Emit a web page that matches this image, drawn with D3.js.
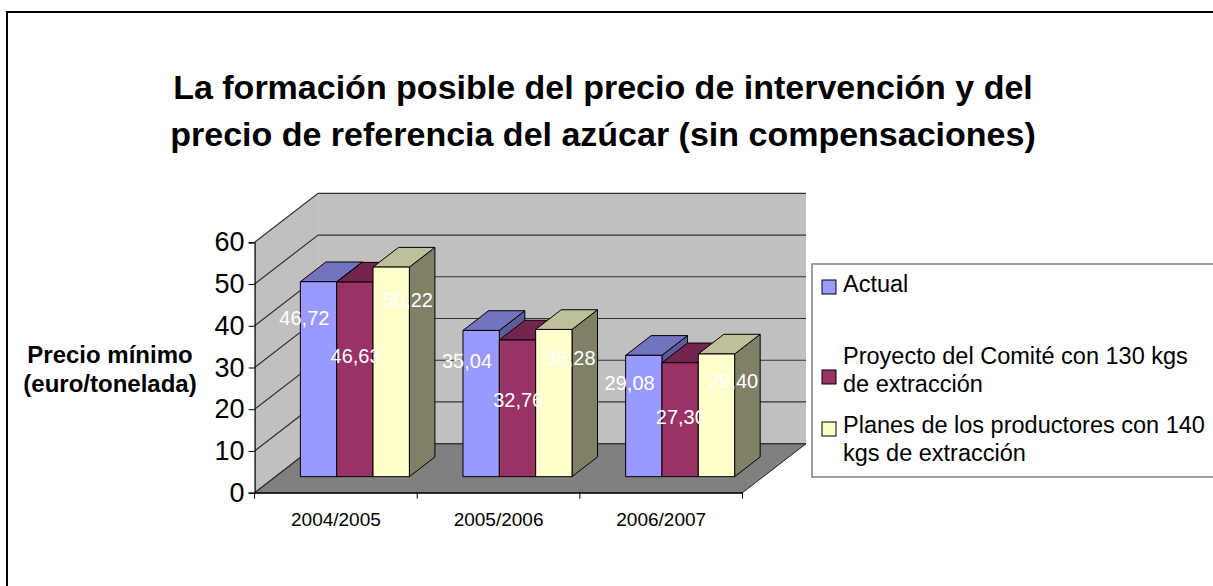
<!DOCTYPE html>
<html>
<head>
<meta charset="utf-8">
<script src="https://cdn.jsdelivr.net/npm/d3@7"></script>
<style>
  body { margin: 0; background: #fff; }
  text { font-family: "Liberation Sans", Arial, sans-serif; }
</style>
</head>
<body>
<div id="container"></div>
<script>
// data
const categories = ["2004/2005", "2005/2006", "2006/2007"];
const actual = [46.72, 35.04, 29.08];
const proyecto = [46.63, 32.76, 27.30];
const planes = [50.22, 35.28, 29.40];
const yTicks = [0, 10, 20, 30, 40, 50, 60];
const titleLines = ["La formación posible del precio de intervención y del",
                    "precio de referencia del azúcar (sin compensaciones)"];
const yTitleLines = ["Precio mínimo", "(euro/tonelada)"];
const legendLines = [["Actual"],
                     ["Proyecto del Comité con 130 kgs", "de extracción"],
                     ["Planes de los productores con 140", "kgs de extracción"]];

const seriesValues = [actual, proyecto, planes];
// front, top, side colours per series
const colors = [
  {front: "#9999ff", top: "#7373bf", side: "#5c5c99"},
  {front: "#993366", top: "#73264d", side: "#5c1f3d"},
  {front: "#ffffcc", top: "#bfbf99", side: "#808066"}
];

const svg = d3.select("#container")
  .append("svg")
  .attr("width", 1213)
  .attr("height", 586);

// outer frame (right and bottom go past the window)
svg.append("rect")
  .attr("x", 7).attr("y", 12)
  .attr("width", 1230).attr("height", 600)
  .attr("fill", "none")
  .attr("stroke", "#000")
  .attr("stroke-width", 2);

// title
svg.selectAll(".title")
  .data(titleLines)
  .enter().append("text")
  .attr("class", "title")
  .attr("x", 603)
  .attr("y", (d, i) => 99 + i * 47)
  .attr("text-anchor", "middle")
  .attr("font-size", 34)
  .attr("font-weight", "bold")
  .text(d => d);

// 3d stuff
const DX = 63.5, DY = 49;
const t0 = 0.327, t1 = 0.729;

const x0 = d3.scaleBand()
  .domain(categories)
  .range([254.6, 742.5]);
const x1 = d3.scaleBand()
  .domain(d3.range(seriesValues.length))
  .range([25, 134]);
const y = d3.scaleLinear()
  .domain([0, 60])
  .range([492.7, 242.3]);

const xStart = x0.range()[0], xEnd = x0.range()[1];

function proj(x, v, t) {
  return [x + t * DX, y(v) - t * DY];
}
function poly(pts) {
  return pts.map(p => p.join(",")).join(" ");
}

const yMax = y.domain()[1];
// left wall
svg.append("polygon")
  .attr("points", poly([proj(xStart, 0, 0), proj(xStart, yMax, 0), proj(xStart, yMax, 1), proj(xStart, 0, 1)]))
  .attr("fill", "#c0c0c0");
// back wall
svg.append("polygon")
  .attr("points", poly([proj(xStart, 0, 1), proj(xEnd, 0, 1), proj(xEnd, yMax, 1), proj(xStart, yMax, 1)]))
  .attr("fill", "#c0c0c0");
// floor
svg.append("polygon")
  .attr("points", poly([proj(xStart, 0, 0), proj(xEnd, 0, 0), proj(xEnd, 0, 1), proj(xStart, 0, 1)]))
  .attr("fill", "#808080")
  .attr("stroke", "#222")
  .attr("stroke-width", 1);

// gridlines on walls
svg.selectAll(".grid")
  .data(yTicks)
  .enter().append("polyline")
  .attr("class", "grid")
  .attr("points", d => poly([proj(xStart, d, 0), proj(xStart, d, 1), proj(xEnd, d, 1)]))
  .attr("fill", "none")
  .attr("stroke", "#333")
  .attr("stroke-width", 1.2);

// bars
const bw = x1.bandwidth();
const barG = svg.selectAll(".group")
  .data(categories)
  .enter().append("g")
  .attr("class", "group");

barG.each(function(cat, ci) {
  const g = d3.select(this);
  seriesValues.forEach((vals, si) => {
    const v = vals[ci];
    const xl = x0(cat) + x1(si);
    const xr = xl + bw;
    const b = g.append("g");
    b.append("polygon")
      .attr("points", poly([proj(xr, 0, t0), proj(xr, v, t0), proj(xr, v, t1), proj(xr, 0, t1)]))
      .attr("fill", colors[si].side);
    b.append("polygon")
      .attr("points", poly([proj(xl, v, t0), proj(xr, v, t0), proj(xr, v, t1), proj(xl, v, t1)]))
      .attr("fill", colors[si].top);
    b.append("polygon")
      .attr("points", poly([proj(xl, 0, t0), proj(xr, 0, t0), proj(xr, v, t0), proj(xl, v, t0)]))
      .attr("fill", colors[si].front);
    b.selectAll("polygon")
      .attr("stroke", "#000")
      .attr("stroke-width", 1)
      .attr("stroke-linejoin", "round");
  });
});

// data labels (excel puts them in odd places, these follow the picture)
const labelPos = [
  {fx: 0.11, k: 0.879, c: 12.8},
  {fx: 0.52, k: 0.752, c: 25.7},
  {fx: 0.96, k: 0.929, c: 18}
];
categories.forEach((cat, ci) => {
  seriesValues.forEach((vals, si) => {
    const v = vals[ci];
    const xl = x0(cat) + x1(si);
    const p = proj(xl + bw * labelPos[si].fx, v * labelPos[si].k, t0);
    svg.append("text")
      .attr("x", p[0])
      .attr("y", p[1] + labelPos[si].c + 7)
      .attr("text-anchor", "middle")
      .attr("font-size", 20)
      .attr("fill", "#fff")
      .text(v.toFixed(2).replace(".", ","));
  });
});

// y axis
const yAxis = d3.axisLeft(y)
  .tickValues(yTicks)
  .tickSize(6)
  .tickPadding(4)
  .tickFormat(d3.format("d"));
svg.append("g")
  .attr("transform", `translate(${xStart},0)`)
  .call(yAxis)
  .call(g => g.select(".domain").attr("stroke", "#000").attr("stroke-width", 1.2))
  .call(g => g.selectAll("text")
    .attr("font-family", "Liberation Sans, Arial, sans-serif")
    .attr("font-size", 27)
    .attr("fill", "#000"));

// x axis
const xAxis = d3.axisBottom(x0)
  .tickSize(0)
  .tickPadding(20);
const xAxisG = svg.append("g")
  .attr("transform", `translate(0,${y(0)})`)
  .call(xAxis);
xAxisG.select(".domain").attr("stroke", "#000").attr("stroke-width", 1.2);
xAxisG.selectAll("text")
  .attr("font-family", "Liberation Sans, Arial, sans-serif")
  .attr("font-size", 19)
  .attr("fill", "#000");
// category separators ticks
xAxisG.selectAll(".sep")
  .data(categories.concat(["end"]))
  .enter().append("line")
  .attr("class", "sep")
  .attr("x1", (d, i) => i < categories.length ? x0(d) : xEnd)
  .attr("x2", (d, i) => i < categories.length ? x0(d) : xEnd)
  .attr("y1", 0).attr("y2", 6)
  .attr("stroke", "#000");

// y title
svg.selectAll(".ytitle")
  .data(yTitleLines)
  .enter().append("text")
  .attr("class", "ytitle")
  .attr("x", 110)
  .attr("y", (d, i) => 363 + i * 29)
  .attr("text-anchor", "middle")
  .attr("font-size", 24)
  .attr("font-weight", "bold")
  .text(d => d);

// legend
const legend = svg.append("g");
legend.append("rect")
  .attr("x", 812).attr("y", 264)
  .attr("width", 420).attr("height", 213)
  .attr("fill", "#fff")
  .attr("stroke", "#808080")
  .attr("stroke-width", 1.5);
const legendY = [292, 364, 433];
const swatchY = [280, 370, 422];
legendLines.forEach((lines, i) => {
  legend.append("rect")
    .attr("x", 822).attr("y", swatchY[i])
    .attr("width", 14).attr("height", 14)
    .attr("fill", colors[i].front)
    .attr("stroke", "#000")
    .attr("stroke-width", 1);
  legend.selectAll(null)
    .data(lines)
    .enter().append("text")
    .attr("x", 843)
    .attr("y", (d, j) => legendY[i] + j * 27.5)
    .attr("font-size", 23.5)
    .text(d => d);
});
</script>
</body>
</html>
